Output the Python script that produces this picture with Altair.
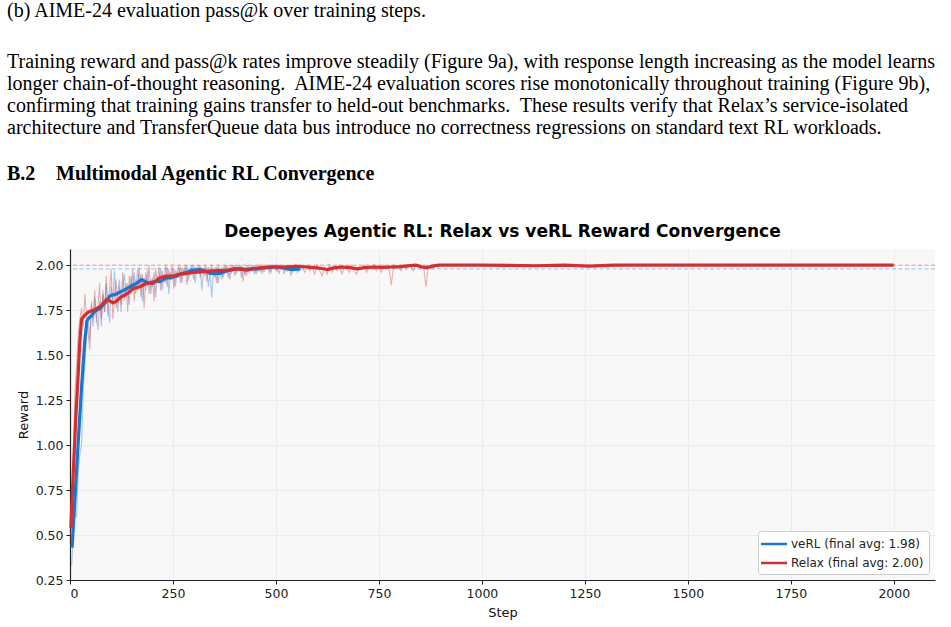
import altair as alt
import pandas as pd

BLUE = "#1976D2"
RED = "#D32F2F"

# ---------------- page text ----------------
CAPTION = "(b) AIME-24 evaluation pass@k over training steps."
PARAGRAPH = [
    "Training reward and pass@k rates improve steadily (Figure 9a), with response length increasing as the model learns",
    "longer chain-of-thought reasoning.\u00a0 AIME-24 evaluation scores rise monotonically throughout training (Figure 9b),",
    "confirming that training gains transfer to held-out benchmarks.\u00a0 These results verify that Relax\u2019s service-isolated",
    "architecture and TransferQueue data bus introduce no correctness regressions on standard text RL workloads.",
]
HEAD_NUM = "B.2"
HEAD_TXT = "Multimodal Agentic RL Convergence"
TITLE = "Deepeyes Agentic RL: Relax vs veRL Reward Convergence"

# ---------------- chart data ----------------
SERIES = ["veRL (final avg: 1.98)", "Relax (final avg: 2.00)"]
FINAL_AVG = [1.98, 2.00]
X_TICKS = [0, 250, 500, 750, 1000, 1250, 1500, 1750, 2000]
Y_TICKS = [0.25, 0.50, 0.75, 1.00, 1.25, 1.50, 1.75, 2.00]

VERL_RAW_STEPS = list(range(4, 564, 4))
VERL_RAW = [
    0.33, 0.50, 0.62, 0.60, 0.85, 0.95, 1.00, 1.30, 1.45, 1.62,
    1.70, 1.58, 1.78, 1.66, 1.82, 1.72, 1.64, 1.80, 1.70, 1.86,
    1.74, 1.90, 1.78, 1.68, 1.88, 1.80, 1.97, 1.76, 1.85, 1.92,
    1.74, 1.88, 1.95, 1.82, 1.90, 1.78, 1.94, 1.86, 1.96, 1.84,
    1.98, 1.88, 1.95, 1.80, 1.93, 1.86, 1.97, 1.84, 1.92, 1.88,
    1.96, 1.82, 1.94, 1.90, 1.98, 1.86, 1.95, 1.90, 1.99, 1.84,
    1.96, 1.92, 1.98, 1.88, 1.97, 1.93, 1.99, 1.90, 1.98, 1.94,
    2.00, 1.92, 1.99, 1.95, 2.00, 1.90, 1.98, 1.96, 2.00, 1.86,
    1.97, 1.94, 1.99, 1.88, 1.96, 1.82, 1.97, 1.93, 1.99, 1.90,
    1.98, 1.92, 1.99, 1.95, 2.00, 1.93, 1.99, 1.96, 2.00, 1.94,
    1.99, 1.97, 2.00, 1.93, 1.99, 1.95, 2.00, 1.96, 1.99, 1.97,
    2.00, 1.95, 1.99, 1.97, 2.00, 1.96, 1.99, 1.97, 2.00, 1.98,
    1.99, 1.96, 2.00, 1.98, 1.99, 1.97, 2.00, 1.98, 1.99, 1.95,
    2.00, 1.97, 1.99, 1.94, 1.99, 1.97, 2.00, 1.96, 1.99, 1.98,
]

RELAX_RAW_STEPS = list(range(0, 564, 4)) + list(range(564, 906, 6)) + list(range(950, 2050, 50))
RELAX_RAW = [
    0.45, 0.60, 0.90, 1.30, 1.44, 1.62, 1.70, 1.76, 1.66, 1.84,
    1.72, 1.62, 1.53, 1.80, 1.70, 1.86, 1.68, 1.78, 1.90, 1.66,
    1.84, 1.74, 1.94, 1.72, 1.86, 1.98, 1.70, 1.82, 1.92, 1.74,
    1.88, 1.78, 1.96, 1.80, 1.90, 1.74, 1.94, 1.84, 1.98, 1.80,
    1.92, 1.86, 1.99, 1.82, 1.95, 1.76, 1.96, 1.88, 2.00, 1.84,
    1.93, 1.80, 1.98, 1.90, 1.99, 1.86, 1.97, 1.91, 2.00, 1.88,
    1.98, 1.92, 2.00, 1.87, 1.97, 1.93, 2.00, 1.90, 1.99, 1.94,
    2.00, 1.89, 1.98, 1.95, 2.00, 1.92, 1.99, 1.96, 2.00, 1.93,
    1.99, 1.95, 2.00, 1.91, 1.99, 1.96, 2.00, 1.94, 1.99, 1.90,
    2.00, 1.96, 1.99, 1.93, 2.00, 1.97, 1.99, 1.92, 2.00, 1.97,
    2.00, 1.95, 1.99, 1.97, 2.00, 1.91, 1.98, 1.94, 2.00, 1.96,
    1.99, 1.97, 2.00, 1.95, 1.99, 1.97, 2.00, 1.96, 1.99, 1.98,
    2.00, 1.96, 1.99, 1.98, 2.00, 1.97, 1.99, 1.95, 2.00, 1.98,
    1.99, 1.97, 2.00, 1.98, 1.99, 1.96, 2.00, 1.98, 1.99, 1.97,
    2.00,
    1.99, 1.96, 2.00, 1.97, 1.99, 1.95, 2.00, 1.97, 1.94, 1.99,
    1.95, 2.00, 1.96, 1.99, 1.97, 2.00, 1.95, 1.99, 1.98, 1.96,
    2.00, 1.97, 1.95, 1.99, 1.98, 2.00, 1.96, 1.99, 1.98, 2.00,
    1.97, 1.99, 1.96, 2.00, 1.98, 1.99, 1.89, 2.00, 1.98, 1.99,
    1.97, 2.00, 1.98, 2.00, 1.99, 1.97, 2.00, 1.99, 1.98, 2.00,
    1.88, 1.99, 2.00, 1.98, 2.00, 1.99, 2.00,
    2.00, 2.00, 1.99, 2.00, 2.00, 2.00, 2.00, 1.99, 2.00, 2.00,
    2.00, 2.00, 2.00, 2.00, 2.00, 2.00, 2.00, 2.00, 2.00, 2.00,
    2.00, 2.00,
]

VERL_SMOOTH_STEPS = [
    5, 12, 20, 28, 36, 41, 47, 53, 59, 65, 73, 81, 89, 97, 105, 113, 121, 130,
    138, 146, 154, 162, 168, 174, 182, 190, 198, 207, 219, 227, 235, 243, 251,
    259, 267, 275, 284, 292, 300, 308, 316, 324, 332, 340, 350, 358, 365, 373,
    381, 390, 397, 405, 413, 421, 429, 437, 445, 454, 462, 470, 478, 486, 494,
    502, 510, 518, 527, 535, 543, 551, 559,
]
VERL_SMOOTH = [
    0.43, 0.70, 1.02, 1.32, 1.58, 1.69, 1.71, 1.72, 1.74, 1.75, 1.76, 1.78, 1.80,
    1.83, 1.835, 1.84, 1.85, 1.86, 1.87, 1.88, 1.89, 1.90, 1.91, 1.92, 1.91, 1.90,
    1.905, 1.91, 1.91, 1.92, 1.93, 1.93, 1.935, 1.94, 1.95, 1.955, 1.96, 1.968,
    1.972, 1.974, 1.976, 1.97, 1.962, 1.955, 1.955, 1.956, 1.955, 1.962, 1.968,
    1.975, 1.978, 1.98, 1.98, 1.978, 1.976, 1.978, 1.98, 1.98, 1.983, 1.985,
    1.986, 1.988, 1.99, 1.99, 1.988, 1.985, 1.98, 1.977, 1.976, 1.978, 1.98,
]

RELAX_SMOOTH_STEPS = [
    2, 8, 14, 20, 24, 28, 35, 40, 45, 51, 57, 65, 73, 81, 89, 97, 105, 113, 122,
    130, 138, 146, 154, 162, 170, 178, 186, 194, 202, 210, 219, 227, 235, 243,
    251, 259, 267, 277, 287, 300, 316, 330, 345, 365, 380, 395, 405, 415, 429,
    441, 455, 470, 485, 500, 520, 540, 555, 575, 600, 615, 625, 640, 660, 680,
    697, 715, 740, 760, 780, 800, 820, 840, 855, 867, 880, 895, 920, 1000, 1130,
    1200, 1260, 1320, 1500, 1750, 2000,
]
RELAX_SMOOTH = [
    0.54, 0.85, 1.15, 1.40, 1.58, 1.70, 1.72, 1.73, 1.74, 1.745, 1.75, 1.76, 1.77,
    1.79, 1.81, 1.80, 1.79, 1.80, 1.82, 1.83, 1.84, 1.855, 1.87, 1.875, 1.88,
    1.89, 1.90, 1.90, 1.90, 1.915, 1.93, 1.935, 1.94, 1.94, 1.94, 1.945, 1.95,
    1.953, 1.956, 1.96, 1.963, 1.966, 1.968, 1.97, 1.97, 1.975, 1.98, 1.978,
    1.972, 1.98, 1.984, 1.987, 1.99, 1.99, 1.99, 1.992, 1.994, 1.99, 1.985, 1.98,
    1.976, 1.985, 1.99, 1.986, 1.98, 1.986, 1.99, 1.988, 1.99, 1.992, 1.996, 2.0,
    1.99, 1.987, 1.995, 2.0, 2.0, 2.0, 1.997, 2.0, 1.995, 2.0, 2.0, 2.0, 2.0,
]

# ---------------- tables ----------------
verl_raw = pd.DataFrame({"step": VERL_RAW_STEPS, "reward": VERL_RAW})
relax_raw = pd.DataFrame({"step": RELAX_RAW_STEPS, "reward": RELAX_RAW})
verl_s = pd.DataFrame({"step": VERL_SMOOTH_STEPS, "reward": VERL_SMOOTH, "series": SERIES[0]})
relax_s = pd.DataFrame({"step": RELAX_SMOOTH_STEPS, "reward": RELAX_SMOOTH, "series": SERIES[1]})
avg_df = pd.DataFrame({"series": SERIES, "avg": FINAL_AVG})

FONT = "DejaVu Sans"
x_enc = alt.X(
    "step:Q",
    scale=alt.Scale(domain=[0, 2100], nice=False, zero=False),
    axis=alt.Axis(values=X_TICKS, title="Step", format="d"),
)
y_enc = alt.Y(
    "reward:Q",
    scale=alt.Scale(domain=[0.25, 2.09], nice=False, zero=False),
    axis=alt.Axis(values=Y_TICKS, title="Reward", format=".2f"),
)
color_scale = alt.Scale(domain=SERIES, range=[BLUE, RED])

raw_b = alt.Chart(verl_raw).mark_line(color=BLUE, strokeWidth=1.1, opacity=0.37).encode(x=x_enc, y=y_enc)
raw_r = alt.Chart(relax_raw).mark_line(color=RED, strokeWidth=1.1, opacity=0.37).encode(x=x_enc, y=y_enc)

avg_b = alt.Chart(avg_df.iloc[[0]]).mark_rule(color=BLUE, strokeDash=[4, 2.5], strokeWidth=1.2, opacity=0.35).encode(y="avg:Q")
avg_r = alt.Chart(avg_df.iloc[[1]]).mark_rule(color=RED, strokeDash=[4, 2.5], strokeWidth=1.2, opacity=0.35).encode(y="avg:Q")

legend = alt.Legend(
    title=None, orient="bottom-right", offset=6, fillColor="white", strokeColor="#cccccc",
    cornerRadius=3, padding=5, labelFont=FONT, labelFontSize=12, labelColor="#222222",
    symbolType="M-2,0H2", symbolStrokeWidth=2.5, symbolSize=169, symbolOffset=3,
    rowPadding=5, labelOffset=9,
)
sm_b = alt.Chart(verl_s).mark_line(strokeWidth=3.2).encode(
    x=x_enc, y=y_enc, color=alt.Color("series:N", scale=color_scale, legend=legend)
)
sm_r = alt.Chart(relax_s).mark_line(strokeWidth=3.2).encode(
    x=x_enc, y=y_enc, color=alt.Color("series:N", scale=color_scale, legend=legend)
)


def page_text(txt, x, y, weight="normal", size=20, font="Liberation Serif", align="left"):
    return alt.Chart(alt.Data(values=[{}])).mark_text(
        text=txt, font=font, fontSize=size, fontWeight=weight,
        align=align, baseline="alphabetic", color="black",
    ).encode(x=alt.value(x), y=alt.value(y))


texts = [page_text(CAPTION, -63, -232)]
for i, line in enumerate(PARAGRAPH):
    texts.append(page_text(line, -63, -181 + i * 22))
texts.append(page_text(HEAD_NUM, -63, -69, weight="bold"))
texts.append(page_text(HEAD_TXT, -14, -69, weight="bold"))
# chart title, centred over the plot area
texts.append(page_text(TITLE, 432.5, -12, weight="bold", size=17, font=FONT, align="center"))

chart = alt.layer(raw_b, raw_r, avg_b, avg_r, sm_b, sm_r, *texts).properties(
    width=865,
    height=331,
    padding={"left": 70, "top": 249, "right": 16, "bottom": 47},
    autosize=alt.AutoSizeParams(type="none"),
    background="white",
).configure_view(
    stroke=None, fill="#f8f8f8"
).configure_axis(
    labelFont=FONT, labelFontSize=12.5, labelColor="#222222", titleFont=FONT, titleFontSize=13,
    titleFontWeight="normal", titleColor="#111111", tickColor="#222222", tickSize=4,
    domainColor="#222222", domainWidth=1.2, gridColor="#e8e8e8", gridWidth=0.8, labelPadding=3,
).configure_axisY(titlePadding=5).configure_axisX(titlePadding=7)

chart.save("out.html", embed_options={"renderer": "svg", "actions": False})
